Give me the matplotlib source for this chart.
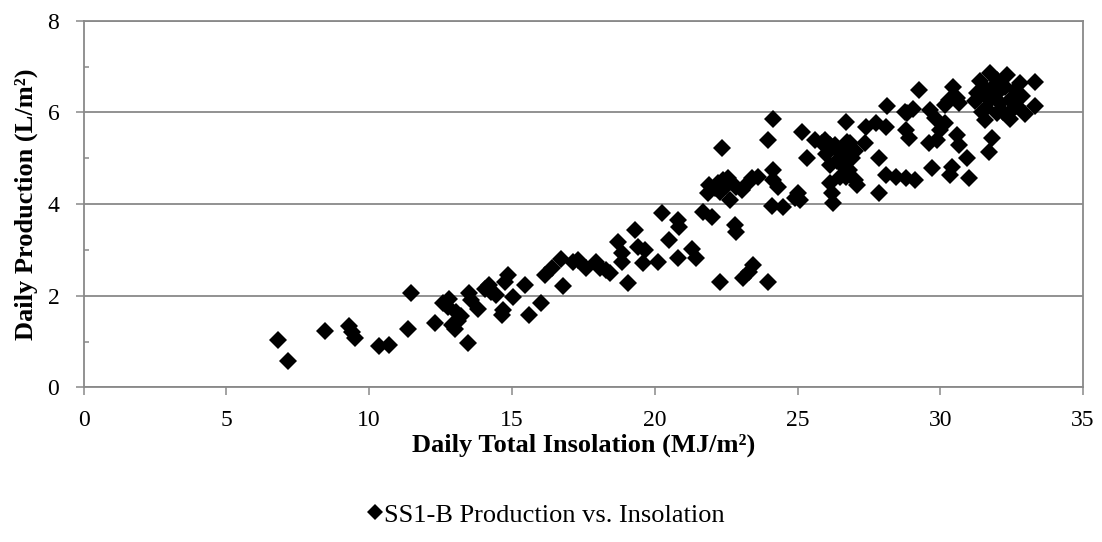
import matplotlib
matplotlib.use("Agg")
import matplotlib.pyplot as plt
from matplotlib.ticker import MultipleLocator
from matplotlib.lines import Line2D

plt.rcParams['font.family'] = ['Liberation Serif', 'DejaVu Serif']

# daily total insolation (MJ/m2)
insolation = [
    6.8, 7.15, 8.45, 9.3, 9.4, 9.5, 10.35, 10.7, 11.35, 11.45,
    12.3, 12.6, 12.8, 12.75, 13.05, 13.1, 12.9, 13.2, 13.0, 13.45,
    13.5, 13.55, 13.8, 14.05, 14.25, 14.45, 14.2, 14.65, 14.7, 14.85,
    14.75, 15.05, 15.45, 15.6, 16.0, 16.15, 16.4, 16.7, 16.8, 17.15,
    17.3, 17.6, 17.95, 18.1, 18.3, 18.45, 18.7, 18.85, 18.85, 19.05,
    19.3, 19.4, 19.65, 19.6, 20.1, 20.25, 20.5, 20.8, 20.85, 20.8,
    21.3, 21.45, 21.7, 22.0, 22.3, 22.8, 22.85, 23.1, 23.3, 23.45,
    23.95,
    21.85, 21.9, 22.2, 22.3, 22.4, 22.55, 22.65, 22.85, 23.05, 23.4,
    23.6, 22.35, 23.95, 24.15, 24.15, 24.15, 24.3, 24.1, 24.5, 25.0,
    25.1, 24.9, 25.15, 25.35, 25.6, 25.85, 25.95, 26.15, 26.4, 26.15,
    26.15, 26.2, 26.25, 26.55, 26.55, 26.7, 26.75, 26.85, 26.8, 27.0,
    27.1, 27.35, 27.4, 27.75, 27.85, 27.85, 28.1, 28.1, 28.15, 28.45,
    28.75, 28.85, 29.05, 28.8, 28.9, 28.8, 29.1, 29.25, 29.65, 29.8,
    29.9, 29.6, 29.7, 30.0, 30.15, 30.15, 30.3, 30.45, 30.6, 30.65,
    30.6, 30.65, 30.95, 31.0, 30.4, 30.35,
    26.0, 26.3, 26.5, 26.9, 26.7, 27.0, 26.4, 22.5, 22.1, 23.25,
    31.3, 31.4, 31.5, 31.55, 31.75, 31.75, 31.8, 31.7, 31.9, 32.0,
    32.1, 32.1, 32.35, 32.45, 32.45, 32.7, 32.8, 32.95, 33.3, 33.3,
    31.6, 31.9, 32.2, 32.6, 31.45, 32.0, 32.5, 32.25, 31.2, 31.65,
    32.85,
]

# daily production (L/m2)
production = [
    1.03, 0.58, 1.23, 1.33, 1.2, 1.07, 0.91, 0.93, 1.27, 2.05,
    1.40, 1.83, 1.92, 1.75, 1.65, 1.45, 1.36, 1.55, 1.28, 0.97,
    2.05, 1.90, 1.70, 2.15, 2.08, 2.02, 2.23, 1.58, 1.68, 2.45,
    2.3, 1.98, 2.23, 1.58, 1.83, 2.45, 2.6, 2.8, 2.22, 2.74,
    2.78, 2.6, 2.74, 2.6, 2.56, 2.49, 3.18, 2.93, 2.74, 2.27,
    3.43, 3.07, 3.0, 2.71, 2.74, 3.80, 3.22, 3.65, 3.51, 2.82,
    3.03, 2.82, 3.83, 3.72, 2.30, 3.54, 3.40, 2.38, 2.52, 2.67,
    2.30,
    4.25, 4.42, 4.45, 4.27, 4.53, 4.56, 4.09, 4.38, 4.31, 4.56,
    4.6, 5.22, 5.40, 5.85, 4.74, 4.53, 4.38, 3.96, 3.94, 4.25,
    4.09, 4.13, 5.58, 5.0, 5.4, 5.33, 5.40, 5.29, 5.18, 4.85,
    4.45, 4.24, 4.02, 5.11, 4.85, 5.80, 5.36, 5.33, 4.74, 4.53,
    4.42, 5.33, 5.69, 5.78, 5.0, 4.24, 5.69, 4.64, 6.14, 4.60,
    6.0, 5.98, 6.08, 5.62, 5.44, 4.56, 4.53, 6.49, 6.05, 5.88,
    5.40, 5.33, 4.78, 5.62, 6.16, 5.76, 6.27, 6.56, 6.31, 6.20,
    5.50, 5.30, 5.0, 4.56, 4.8, 4.64,
    5.1, 5.3, 4.6, 5.0, 4.6, 5.15, 4.95, 4.4, 4.35, 4.45,
    6.42, 6.68, 6.42, 5.84, 6.86, 6.27, 5.44, 5.13, 6.38, 5.98,
    6.20, 6.49, 6.82, 6.27, 5.86, 6.13, 6.64, 5.96, 6.66, 6.13,
    6.1, 6.6, 6.0, 6.5, 6.0, 6.7, 6.05, 6.55, 6.25, 6.5,
    6.35,
]

series_label = "SS1-B Production vs. Insolation"
x_title = "Daily Total Insolation (MJ/m²)"
y_title = "Daily Production (L/m²)"

grey = "#898989"

fig = plt.figure(figsize=(11.02, 5.42), dpi=100)
ax = fig.add_axes([0.0759, 0.2854, 0.9069, 0.6762])

ax.plot(insolation, production, ls="none", marker="D", ms=8.7,
        color="black", mec="black", mew=0, zorder=3)

ax.set_xlim(0, 35)
ax.set_ylim(0, 8)
ax.xaxis.set_major_locator(MultipleLocator(5))
ax.yaxis.set_major_locator(MultipleLocator(2))
ax.yaxis.set_minor_locator(MultipleLocator(1))

ax.grid(axis="y", which="major", color=grey, lw=1.3, zorder=0)
for side in ["left", "bottom", "right", "top"]:
    ax.spines[side].set_color(grey)
    ax.spines[side].set_linewidth(1.3)

ax.tick_params(axis="x", which="major", direction="out", length=5.5,
               width=1.1, color=grey, labelsize=17, pad=11)
ax.tick_params(axis="y", which="major", direction="out", length=5.5,
               width=1.1, color=grey, labelsize=17, pad=12)
ax.tick_params(axis="y", which="minor", direction="in", length=3.5,
               width=1.1, color=grey)

ax.set_xlabel(x_title, fontsize=19, fontweight="bold", labelpad=2)
ax.set_ylabel(y_title, fontsize=19, fontweight="bold", labelpad=7)

handle = Line2D([], [], ls="none", marker="D", ms=8, color="black", mew=0)
fig.legend([handle], [series_label], loc="center", bbox_to_anchor=(0.495, 0.05),
           frameon=False, fontsize=19, handletextpad=0.05, handlelength=0.6)

fig.savefig("out.png", dpi=100)
